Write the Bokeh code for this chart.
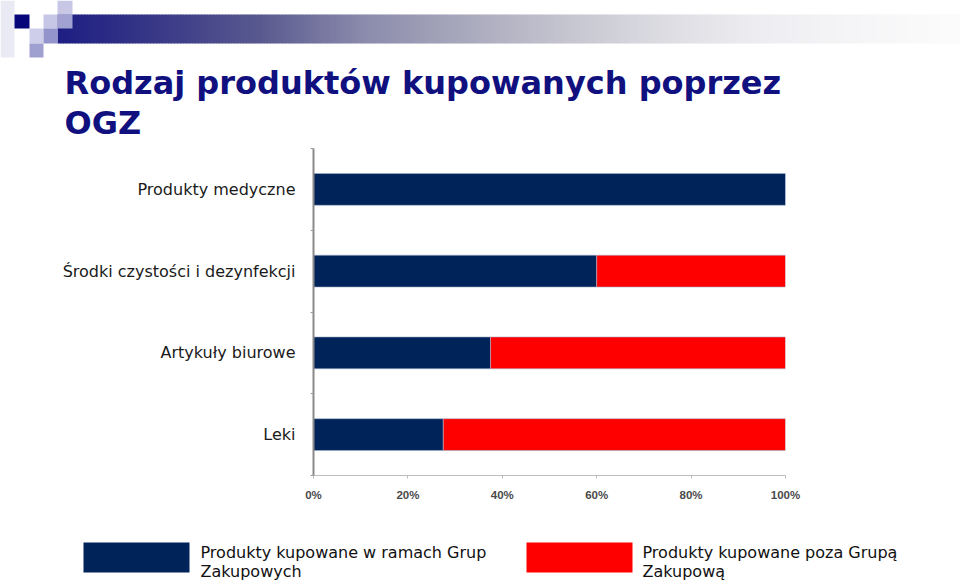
from bokeh.plotting import figure
from bokeh.models import (ColumnDataSource, Range1d, LinearAxis,
                          FixedTicker, NumeralTickFormatter)
from bokeh.layouts import column
from bokeh.core.properties import value
from bokeh.embed import file_html
from bokeh.resources import INLINE
import numpy as np

# ---------------- data ----------------
categories = ["Produkty medyczne", "Środki czystości i dezynfekcji", "Artykuły biurowe", "Leki"]
inside_group = [1.0, 0.60, 0.375, 0.275]     # Produkty kupowane w ramach Grup Zakupowych
outside_group = [0.0, 0.40, 0.625, 0.725]    # Produkty kupowane poza Grupą Zakupową
x_ticks = [0, 0.2, 0.4, 0.6, 0.8, 1.0]
series_names = ["Produkty kupowane w ramach Grup\nZakupowych", "Produkty kupowane poza Grupą\nZakupową"]
title_lines = ["Rodzaj produktów kupowanych poprzez", "OGZ"]

NAVY = "#00245a"
RED = "#ff0000"
TITLE_COLOR = "#10107f"
W = 960

# ---------------- header (banner + title) ----------------
hdr = figure(width=W, height=140, x_range=Range1d(0, 960), y_range=Range1d(140, 0),
             output_backend="svg", toolbar_location=None, min_border=0, frame_align=False)
hdr.axis.visible = False
hdr.grid.visible = False
hdr.outline_line_color = None

stop_x = [57, 160, 260, 360, 460, 560, 660, 760, 860, 960]
stop_c = ["#1e1e84", "#3a3a88", "#5a5a90", "#8a8aac", "#a8a8bc", "#c4c4d0", "#dcdce2", "#eeeef2", "#f6f6f8", "#fcfcfc"]
def hex2rgb(h):
    return [int(h[i:i + 2], 16) for i in (1, 3, 5)]
rgb = np.array([hex2rgb(c) for c in stop_c], dtype=float)
edges = np.arange(57, 963, 3)
lefts = edges[:-1]
rights = edges[1:] + 0.5
mids = (edges[:-1] + edges[1:]) / 2
cols = []
for m in mids:
    r = np.interp(m, stop_x, rgb[:, 0]); g = np.interp(m, stop_x, rgb[:, 1]); b = np.interp(m, stop_x, rgb[:, 2])
    cols.append("#%02x%02x%02x" % (int(r), int(g), int(b)))
hdr.quad(left=lefts, right=rights, top=14, bottom=43, fill_color=cols, line_color=None)

sq_l = [0, 14, 43, 57, 57, 29, 43, 29]
sq_r = [14, 29, 57, 72, 72, 43, 57, 43]
sq_t = [0, 14, 14, 0, 14, 28, 28, 43]
sq_b = [57, 28, 28, 14, 28, 43, 43, 57]
sq_c = ["#eaeaf4", "#06067a", "#c6c6e6", "#c8c8e6", "#a2a2d2", "#ceceea", "#9494cc", "#a0a0d0"]
hdr.quad(left=sq_l, right=sq_r, top=sq_t, bottom=sq_b, fill_color=sq_c, line_color=None)

hdr.text(x=[64, 64], y=[82, 122], text=title_lines, text_color=TITLE_COLOR,
         text_font=value("DejaVu Sans"), text_font_style="bold", text_font_size="32px",
         text_baseline="alphabetic", text_align="left")

# ---------------- main chart ----------------
n = len(categories)
ypos = [n - 0.5 - i for i in range(n)]
src = ColumnDataSource(dict(y=ypos, inside=inside_group, outside=outside_group))
p = figure(width=W, height=390, y_range=Range1d(0, n), x_range=Range1d(0, 1),
           output_backend="svg", toolbar_location=None, frame_align=False,
           y_axis_location=None, min_border_left=313, min_border_right=175,
           min_border_top=8, min_border_bottom=55)
p.outline_line_color = None
p.grid.visible = False

p.hbar_stack(["inside", "outside"], y="y", height=0.39, color=[NAVY, RED],
             line_color="#a9b6d0", line_width=1, line_alpha=0.6, source=src)

xa = p.xaxis[0]
xa.ticker = FixedTicker(ticks=x_ticks)
xa.formatter = NumeralTickFormatter(format="0%")
xa.axis_line_color = "#bdbdbd"
xa.major_tick_line_color = "#bdbdbd"
xa.major_tick_in = 0
xa.major_tick_out = 3
xa.minor_tick_line_color = None
xa.major_label_text_font = "Liberation Sans"
xa.major_label_text_font_style = "bold"
xa.major_label_text_font_size = "11.5px"
xa.major_label_text_color = "#4a4a4a"
xa.major_label_standoff = 10

band_axis = LinearAxis(ticker=FixedTicker(ticks=list(range(n + 1))),
                       axis_line_color="#8a8a8a", axis_line_width=2,
                       major_tick_line_color="#9a9a9a", major_tick_in=0, major_tick_out=3,
                       minor_tick_line_color=None, major_label_text_font_size="0px",
                       major_label_standoff=0)
band_axis.major_label_text_alpha = 0
p.add_layout(band_axis, "left")

cat_axis = LinearAxis(ticker=FixedTicker(ticks=ypos),
                      major_label_overrides={y: c for y, c in zip(ypos, categories)},
                      axis_line_color=None, major_tick_line_color=None, minor_tick_line_color=None,
                      major_label_text_font="DejaVu Sans", major_label_text_font_size="16px",
                      major_label_text_color="#1a1a1a", major_label_standoff=9)
p.add_layout(cat_axis, "left")

# ---------------- legend ----------------
leg = figure(width=W, height=51, x_range=Range1d(0, 960), y_range=Range1d(581, 530),
             output_backend="svg", toolbar_location=None, min_border=0, frame_align=False)
leg.axis.visible = False
leg.grid.visible = False
leg.outline_line_color = None
leg.quad(left=[83, 526], right=[189, 632], top=[542, 542], bottom=[572, 572],
         fill_color=[NAVY, RED], line_color=None)
line1 = [s.split("\n")[0] for s in series_names]
line2 = [s.split("\n")[1] for s in series_names]
leg.text(x=[200, 642], y=[552, 552], text=line1, text_color="#111111",
         text_font=value("DejaVu Sans"), text_font_size="16px", text_baseline="alphabetic")
leg.text(x=[200, 642], y=[571, 571], text=line2, text_color="#111111",
         text_font=value("DejaVu Sans"), text_font_size="16px", text_baseline="alphabetic")

layout = column(hdr, p, leg, spacing=0)
open("out.html", "w").write(file_html(layout, INLINE))
